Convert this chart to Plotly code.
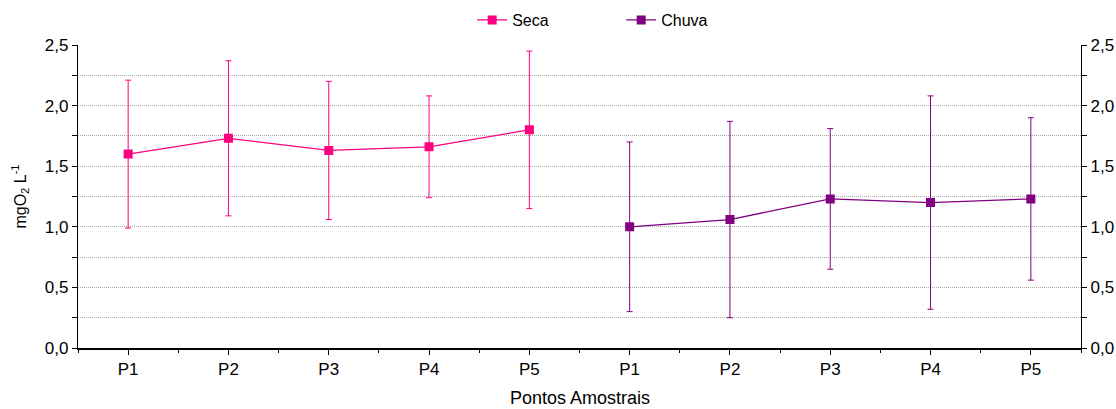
import plotly.graph_objects as go

# Pontos amostrais e médias de oxigênio dissolvido (mgO2 L-1) por período
pontos = ["P1", "P2", "P3", "P4", "P5"]
seca_media = [1.60, 1.73, 1.63, 1.66, 1.80]
seca_dp = [0.61, 0.64, 0.57, 0.42, 0.65]
chuva_media = [1.00, 1.06, 1.23, 1.20, 1.23]
chuva_dp = [0.70, 0.81, 0.58, 0.88, 0.67]

COR_SECA = "#FF0080"
COR_CHUVA = "#800080"
FAMILIA = "Liberation Sans, Arial, sans-serif"
FONTE_TICK = dict(family=FAMILIA, size=17, color="black")
FONTE_LEG = dict(family=FAMILIA, size=16, color="black")
FONTE_TIT = dict(family=FAMILIA, size=18, color="black")
posicoes = list(range(len(pontos)))

fig = go.Figure()

fig.add_trace(go.Scatter(
    x=posicoes, y=seca_media, name="Seca", mode="lines+markers",
    line=dict(color=COR_SECA, width=1.3),
    marker=dict(symbol="square", size=9, color=COR_SECA),
    error_y=dict(type="data", array=seca_dp, symmetric=True,
                 color=COR_SECA, thickness=1, width=3),
    xaxis="x", yaxis="y",
))
fig.add_trace(go.Scatter(
    x=posicoes, y=chuva_media, name="Chuva", mode="lines+markers",
    line=dict(color=COR_CHUVA, width=1.3),
    marker=dict(symbol="square", size=9, color=COR_CHUVA),
    error_y=dict(type="data", array=chuva_dp, symmetric=True,
                 color=COR_CHUVA, thickness=1, width=3),
    xaxis="x2", yaxis="y2",
))

eixo_x = dict(
    range=[-0.5, len(pontos) - 0.5], tickvals=posicoes, ticktext=pontos,
    showline=True, linecolor="black", linewidth=1.5,
    ticks="outside", ticklen=5, tickcolor="black", tickwidth=1,
    minor=dict(tick0=0.5, dtick=1, ticks="outside", ticklen=3,
               tickcolor="black", tickwidth=1),
    showgrid=False, zeroline=False, tickfont=FONTE_TICK, automargin=False,
)
GRADE = "#a9a9a9"
eixo_y = dict(
    range=[0, 2.5], dtick=0.5, tick0=0, tickformat=".1f",
    showline=True, linecolor="black", linewidth=1.3,
    ticks="outside", ticklen=5, tickcolor="black", tickwidth=1,
    showgrid=True, gridcolor=GRADE, gridwidth=1, griddash="1px,1px",
    minor=dict(dtick=0.25, tick0=0, ticks="outside", ticklen=5,
               tickcolor="black", tickwidth=1, showgrid=True,
               gridcolor=GRADE, gridwidth=1, griddash="1px,1px"),
    zeroline=False, tickfont=FONTE_TICK, automargin=False,
)

fig.update_layout(
    width=1116, height=409,
    margin=dict(l=78, r=35, t=45, b=61, autoexpand=False),
    paper_bgcolor="white", plot_bgcolor="white",
    separators=",.",
    font=FONTE_TICK,
    showlegend=True,
    legend=dict(orientation="h", x=0.393, xanchor="left",
                yref="container", y=1 - 20 / 409, yanchor="middle",
                font=FONTE_LEG,
                entrywidth=104, entrywidthmode="pixels",
                bgcolor="rgba(0,0,0,0)"),
    xaxis=dict(eixo_x, domain=[0, 0.5], anchor="y"),
    xaxis2=dict(eixo_x, domain=[0.5, 1], anchor="y2"),
    yaxis=dict(eixo_y, anchor="x", side="left",
               title=dict(text="mgO<sub>2</sub> L<sup>-1</sup>",
                          font=FONTE_LEG, standoff=14)),
    yaxis2=dict(eixo_y, anchor="x2", side="right"),
    annotations=[dict(text="Pontos Amostrais", xref="paper", yref="paper",
                      x=0.5, y=-0.166, xanchor="center", yanchor="middle",
                      showarrow=False, font=FONTE_TIT)],
)

fig.write_html("out.html")
